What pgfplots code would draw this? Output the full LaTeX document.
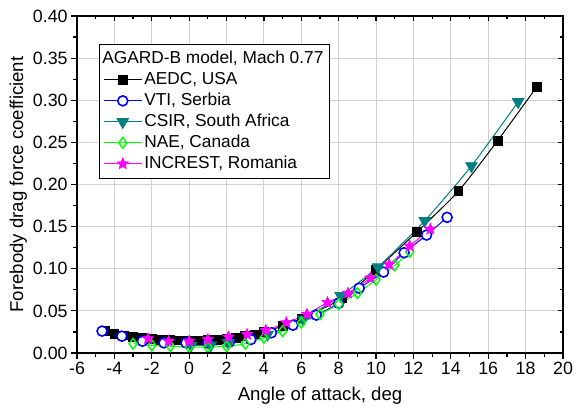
\documentclass[border=0pt]{standalone}
\usepackage{fontspec}
\setmainfont{Liberation Sans}
\usepackage{pgfplots}
\pgfplotsset{compat=1.18}

\definecolor{aedc}{HTML}{000000}
\definecolor{vti}{HTML}{0000FF}
\definecolor{csir}{HTML}{008080}
\definecolor{nae}{HTML}{00FF00}
\definecolor{increst}{HTML}{FF00FF}

% filled five-pointed star
\pgfdeclareplotmark{fstar}{%
  \pgfpathmoveto{\pgfpointpolar{90}{\pgfplotmarksize}}%
  \pgfpathlineto{\pgfpointpolar{126}{0.45\pgfplotmarksize}}%
  \pgfpathlineto{\pgfpointpolar{162}{\pgfplotmarksize}}%
  \pgfpathlineto{\pgfpointpolar{198}{0.45\pgfplotmarksize}}%
  \pgfpathlineto{\pgfpointpolar{234}{\pgfplotmarksize}}%
  \pgfpathlineto{\pgfpointpolar{270}{0.45\pgfplotmarksize}}%
  \pgfpathlineto{\pgfpointpolar{306}{\pgfplotmarksize}}%
  \pgfpathlineto{\pgfpointpolar{342}{0.45\pgfplotmarksize}}%
  \pgfpathlineto{\pgfpointpolar{18}{\pgfplotmarksize}}%
  \pgfpathlineto{\pgfpointpolar{54}{0.45\pgfplotmarksize}}%
  \pgfpathclose
  \pgfusepathqfillstroke
}

\begin{document}
\begin{tikzpicture}
\begin{axis}[
  name=main,
  scale only axis, width=243pt, height=168.5pt,
  xmin=-6, xmax=20, ymin=0, ymax=0.40,
  xtick={-6,-4,-2,0,2,4,6,8,10,12,14,16,18,20},
  ytick={0,0.05,0.10,0.15,0.20,0.25,0.30,0.35,0.40},
  minor x tick num=1, minor y tick num=1,
  tick pos=left, tick align=outside,
  major tick length=3pt, minor tick length=1.8pt,
  every tick/.style={black, line width=0.6pt},
  grid=major, major grid style={black!18, line width=0.5pt},
  axis line style={line width=1pt},
  ticklabel style={font=\fontsize{8.9}{10}\selectfont},
  xticklabel style={inner sep=1.5pt},
  yticklabel style={inner sep=1.5pt},
  /pgf/number format/assume math mode=true,
  yticklabel style={/pgf/number format/.cd, fixed, fixed zerofill, precision=2},
  xlabel={Angle of attack, deg},
  ylabel={Forebody drag force coefficient},
  label style={font=\fontsize{9.3}{11}\selectfont},
  xlabel style={yshift=-1pt},
  ylabel style={yshift=-2pt},
  legend cell align=left,
  legend style={at={(0.045,0.917)}, anchor=north west, draw=black,
    line width=0.4pt, font=\fontsize{8.65}{10.5}\selectfont,
    inner sep=2pt, row sep=0pt,
    nodes={inner sep=1pt, text height=6.6pt, text depth=1.9pt}},
  legend image code/.code={%
    \draw[mark repeat=2, mark phase=2]
      plot coordinates {(0pt,0pt) (9.5pt,0pt) (19pt,0pt)};},
  every axis plot/.append style={line width=0.5pt},
]
\addlegendimage{empty legend}
\addlegendentry{\hspace*{-21pt}AGARD-B model, Mach 0.77}

\addplot[color=aedc, smooth, tension=0.4, mark=square*, mark size=2.2pt,
  mark options={fill=aedc, line width=0.4pt}]
  coordinates {
  (-4.5,0.026) (-4.0,0.023) (-3.5,0.021) (-3.0,0.019) (-2.5,0.018)
  (-2.0,0.017) (-1.5,0.016) (-1.0,0.016) (-0.5,0.015) (0.0,0.015)
  (0.5,0.015) (1.0,0.016) (1.5,0.016) (2.0,0.017) (2.5,0.018)
  (3.0,0.020) (3.5,0.022) (4.0,0.025) (5.0,0.032) (6.0,0.041)
  (8.2,0.065) (10.0,0.099) (12.2,0.144) (14.4,0.192) (16.5,0.252)
  (18.6,0.316)};
\addlegendentry{AEDC, USA}

\addplot[color=vti, smooth, tension=0.4, mark=*, mark size=2.5pt,
  mark options={fill=white, line width=0.8pt}]
  coordinates {
  (-4.66,0.026) (-3.6,0.020) (-2.5,0.014) (-1.35,0.012) (-0.17,0.012)
  (1.0,0.012) (2.15,0.013) (3.3,0.016) (4.4,0.024) (5.55,0.033)
  (6.8,0.045) (8.0,0.059) (9.1,0.077) (10.4,0.096) (11.5,0.119)
  (12.7,0.140) (13.8,0.161)};
\addlegendentry{VTI, Serbia}

\addplot[color=csir, smooth, tension=0.4, mark=triangle*, mark size=3.3pt,
  mark options={fill=csir, rotate=180, line width=0.4pt}]
  coordinates {
  (0.1,0.009) (1.15,0.009) (2.1,0.012) (4.2,0.022) (6.1,0.040)
  (8.1,0.068) (10.1,0.102) (12.6,0.157) (15.1,0.222) (17.6,0.298)};
\addlegendentry{CSIR, South Africa}

\addplot[color=nae, smooth, tension=0.4, mark=diamond, mark size=2.7pt,
  mark options={fill=white, line width=0.7pt}]
  coordinates {
  (-3.0,0.011) (-2.0,0.009) (-1.0,0.008) (0.0,0.007) (1.0,0.007)
  (2.0,0.008) (3.0,0.011) (4.0,0.018) (5.0,0.026) (6.0,0.036)
  (7.0,0.046) (8.0,0.058) (9.0,0.071) (10.0,0.087) (11.0,0.104)
  (11.8,0.120)};
\addlegendentry{NAE, Canada}

\addplot[color=increst, smooth, tension=0.4, mark=fstar, mark size=3pt,
  mark options={fill=increst, line width=0.3pt}]
  coordinates {
  (-2.2,0.017) (-1.1,0.014) (0.0,0.014) (1.0,0.016) (2.1,0.019)
  (3.1,0.022) (4.1,0.027) (5.2,0.036) (6.3,0.046) (7.4,0.060)
  (8.5,0.071) (9.7,0.089) (10.7,0.105) (11.8,0.127) (12.9,0.147)};
\addlegendentry{INCREST, Romania}
\end{axis}

% mirrored inward ticks on the top and right sides
\begin{axis}[
  scale only axis, width=243pt, height=168.5pt,
  xmin=-6, xmax=20, ymin=0, ymax=0.40,
  xtick={-6,-4,-2,0,2,4,6,8,10,12,14,16,18,20},
  ytick={0,0.05,0.10,0.15,0.20,0.25,0.30,0.35,0.40},
  minor x tick num=1, minor y tick num=1,
  tick pos=right, tick align=inside,
  major tick length=2.5pt, minor tick length=1.5pt,
  every tick/.style={black, line width=0.6pt},
  xticklabels={}, yticklabels={},
  axis line style={line width=1pt},
]
\end{axis}

\pgfresetboundingbox
\path[use as bounding box] ([shift={(-38.5pt,-29.5pt)}]main.south west)
  rectangle ([shift={(6.5pt,8pt)}]main.north east);
\end{tikzpicture}
\end{document}
